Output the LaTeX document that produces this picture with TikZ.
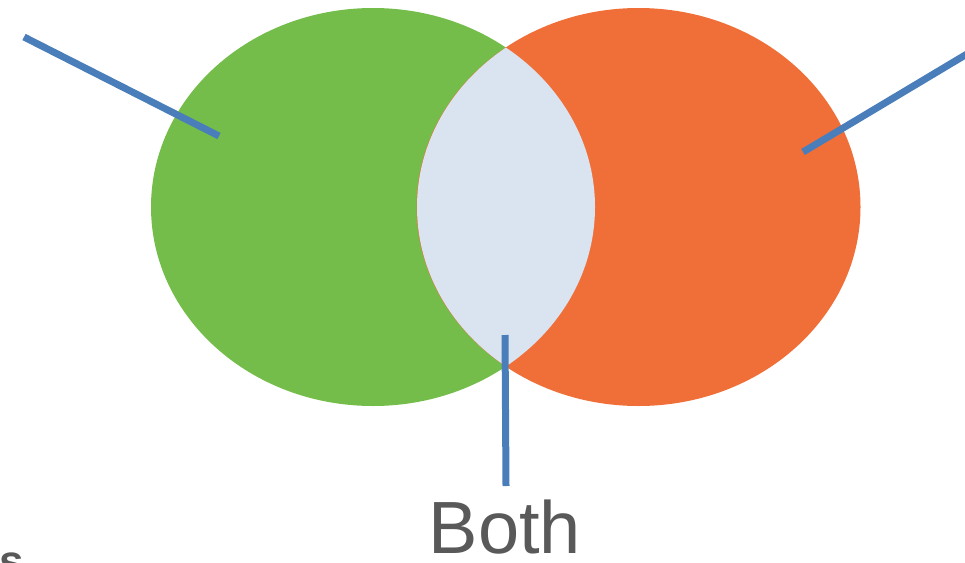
\documentclass[tikz,border=0pt]{standalone}
\usepackage{fontspec}
\setmainfont{Liberation Sans}
\usetikzlibrary{shapes.geometric}

\definecolor{setgreen}{HTML}{74BD4B}
\definecolor{setorange}{HTML}{F06F38}
\definecolor{setboth}{HTML}{DAE3F0}
\definecolor{pointer}{HTML}{4A7EBB}
\definecolor{labelgray}{HTML}{595959}

\begin{document}
\begin{tikzpicture}[
  x=1pt, y=-1pt,
  set/.style={ellipse, inner sep=0pt, minimum width=444pt, minimum height=398pt},
  ptr/.style={draw=pointer, line width=7pt, line cap=butt},
  lbl/.style={text=labelgray, anchor=base, inner sep=0pt}
]
  \useasboundingbox (0,0) rectangle (965,562);

  % the two sets
  \node[set, fill=setgreen] (left) at (373,207) {};
  \node[set, fill=setorange] (right) at (638.5,207) {};
  \begin{scope}
    \clip (373,207) ellipse [x radius=222, y radius=199];
    \fill[setboth] (638.5,207) ellipse [x radius=221.5, y radius=199];
  \end{scope}

  % labels
  \node[lbl, font=\fontsize{74}{80}\selectfont] (both) at (505,553) {Both};
  \node[lbl, font=\fontsize{44}{50}\selectfont\bfseries] (cut) at (12,576) {s};

  % pointers
  \coordinate (lefttip) at (219,136);
  \coordinate (leftend) at (24,37);
  \coordinate (righttip) at (803,152);
  \coordinate (rightend) at (972,51);
  \coordinate (bothtip) at (505,335);
  \coordinate (bothend) at (506,486);

  \draw[ptr] (leftend) -- (lefttip);
  \draw[ptr] (rightend) -- (righttip);
  \draw[ptr] (bothtip) -- (bothend);
\end{tikzpicture}
\end{document}
